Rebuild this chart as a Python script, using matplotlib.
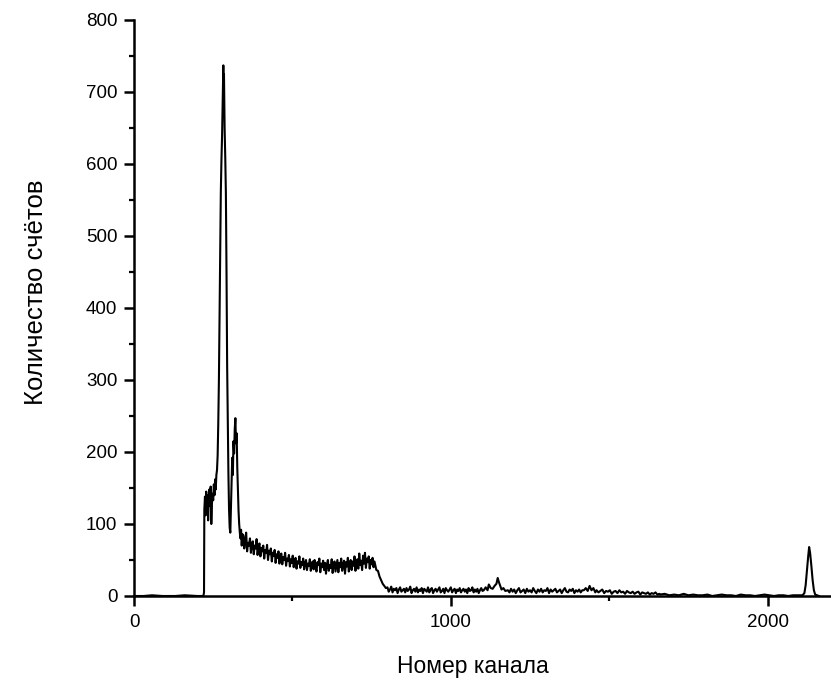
import numpy as np
import matplotlib
matplotlib.use("Agg")
from matplotlib import pyplot as plt
from matplotlib.ticker import MultipleLocator

plt.rcParams['font.family'] = ['Liberation Sans', 'DejaVu Sans']

# empty start of the spectrum
ch_start = [0, 30, 57, 90, 130, 160, 200, 219]
cnt_start = [0, 0, 1, 0, 0, 1, 0, 0]

# edge, main peak and second peak
ch_peaks = [221, 222, 224, 226, 228, 230, 232, 234, 236, 238, 240, 242, 244, 246, 248,
            250, 252, 254, 256, 258, 260, 262, 264, 266, 268, 270, 272, 274, 276, 278,
            280, 282, 283, 284, 286, 288, 290, 292, 294, 296, 298, 300, 302, 304, 306,
            308, 310, 312, 314, 316, 318, 320, 322, 324, 326, 328, 330, 332, 334, 336,
            338, 340, 342]
cnt_peaks = [5, 120, 138, 112, 145, 122, 140, 105, 132, 148, 125, 152, 100, 128, 142,
             133, 155, 140, 162, 148, 168, 175, 195, 240, 300, 390, 480, 560, 605, 640,
             690, 737, 700, 725, 650, 610, 560, 450, 320, 240, 170, 120, 95, 88, 122,
             160, 192, 168, 215, 198, 232, 247, 212, 226, 178, 150, 118, 100, 88, 80,
             92, 70, 86]

# Compton plateau
ch_plateau = np.arange(345, 768, 3)
cnt_plateau = [84, 66, 78, 88, 62, 74, 70, 80, 60, 72,
               76, 58, 70, 66, 79, 57, 68, 73, 55, 67,
               62, 70, 52, 64, 60, 71, 50, 63, 58, 66,
               48, 60, 56, 64, 46, 58, 53, 62, 45, 55,
               59, 44, 54, 50, 60, 42, 52, 49, 57, 41,
               51, 46, 56, 40, 49, 53, 38, 48, 45, 55,
               39, 47, 43, 52, 37, 46, 50, 36, 45, 42,
               51, 35, 44, 48, 37, 50, 41, 34, 47, 43,
               52, 33, 45, 40, 49, 36, 46, 31, 44, 50,
               35, 43, 39, 51, 32, 45, 48, 34, 42, 50,
               33, 46, 40, 52, 35, 44, 49, 31, 47, 41,
               53, 34, 45, 50, 36, 48, 42, 55, 35, 47,
               51, 38, 59, 43, 49, 36, 56, 45, 60, 39,
               52, 47, 55, 38, 50, 44, 53, 40, 48, 42,
               36]

# edge fall
ch_fall = [770, 775, 780, 785, 790, 795]
cnt_fall = [35, 27, 22, 17, 14, 11]

ch_low1 = np.arange(800, 1104, 4)
cnt_low1 = [12, 6, 9, 13, 5, 10, 8, 11, 4, 9,
            12, 6, 8, 10, 5, 11, 7, 9, 13, 4,
            8, 10, 6, 12, 5, 9, 7, 11, 4, 10,
            8, 6, 12, 5, 9, 11, 4, 8, 10, 6,
            9, 12, 5, 7, 10, 4, 11, 8, 6, 9,
            12, 5, 8, 10, 4, 9, 7, 11, 5, 8,
            10, 6, 9, 4, 11, 7, 8, 12, 5, 9,
            6, 10, 4, 8, 11, 7]

# small peak near 1150
ch_bump1 = [1104, 1110, 1116, 1120, 1126, 1132, 1138, 1144, 1148, 1152, 1156, 1160, 1166, 1172]
cnt_bump1 = [8, 12, 8, 16, 11, 10, 14, 17, 25, 19, 14, 9, 11, 7]

ch_low2 = np.arange(1180, 1420, 5)
cnt_low2 = [8, 5, 10, 6, 9, 4, 8, 11, 5, 7,
            9, 4, 10, 6, 8, 5, 11, 7, 4, 9,
            6, 10, 5, 8, 7, 11, 4, 9, 6, 8,
            10, 5, 7, 9, 4, 8, 11, 6, 5, 9,
            7, 10, 4, 8, 6, 9, 5, 8]

ch_bump2 = [1420, 1426, 1432, 1438, 1444, 1450, 1456]
cnt_bump2 = [8, 11, 7, 14, 8, 11, 5]

ch_low3 = np.arange(1460, 1660, 6)
cnt_low3 = [8, 5, 7, 9, 4, 7, 6, 8, 3, 6,
            7, 4, 8, 5, 6, 3, 7, 5, 4, 6,
            3, 5, 6, 2, 5, 4, 3, 5, 2, 4,
            3, 5, 2, 3]

ch_low4 = np.arange(1660, 2110, 15)
cnt_low4 = [2, 3, 1, 2, 1, 3, 1, 2, 1, 1, 2, 0, 1, 2, 1,
            1, 0, 2, 1, 1, 0, 1, 2, 1, 0, 1, 1, 0, 1, 1]

# peak near the end
ch_end = [2110, 2116, 2120, 2124, 2128, 2131, 2134, 2138, 2142, 2146, 2150, 2156, 2162]
cnt_end = [1, 4, 15, 35, 55, 68, 60, 42, 22, 8, 2, 1, 0]

channels = np.concatenate([ch_start, ch_peaks, ch_plateau, ch_fall, ch_low1, ch_bump1,
                           ch_low2, ch_bump2, ch_low3, ch_low4, ch_end])
counts = np.concatenate([cnt_start, cnt_peaks, cnt_plateau, cnt_fall, cnt_low1, cnt_bump1,
                         cnt_low2, cnt_bump2, cnt_low3, cnt_low4, cnt_end])

fig = plt.figure(figsize=(8.31, 6.81), dpi=100)
ax = fig.add_axes([134 / 831, 85 / 681, 697 / 831, 576 / 681])

ax.plot(channels, counts, color='black', lw=1.5)

ax.set_xlim(0, 2200)
ax.set_ylim(0, 800)
ax.xaxis.set_major_locator(MultipleLocator(1000))
ax.xaxis.set_minor_locator(MultipleLocator(500))
ax.yaxis.set_major_locator(MultipleLocator(100))
ax.yaxis.set_minor_locator(MultipleLocator(50))

for s in ['top', 'right']:
    ax.spines[s].set_visible(False)
for s in ['left', 'bottom']:
    ax.spines[s].set_linewidth(1.8)

ax.tick_params(which='major', direction='out', length=7, width=1.8, labelsize=13.5, pad=5)
ax.tick_params(which='minor', direction='out', length=3.5, width=1.6)
ax.tick_params(axis='x', which='major', pad=6)

ax.set_xlabel('Номер канала', fontsize=16.5)
ax.set_ylabel('Количество счётов', fontsize=18.5)
ax.xaxis.set_label_coords(0.486, -0.102)
ax.yaxis.set_label_coords(-0.124, 0.528)

fig.savefig('out.png', dpi=100)
